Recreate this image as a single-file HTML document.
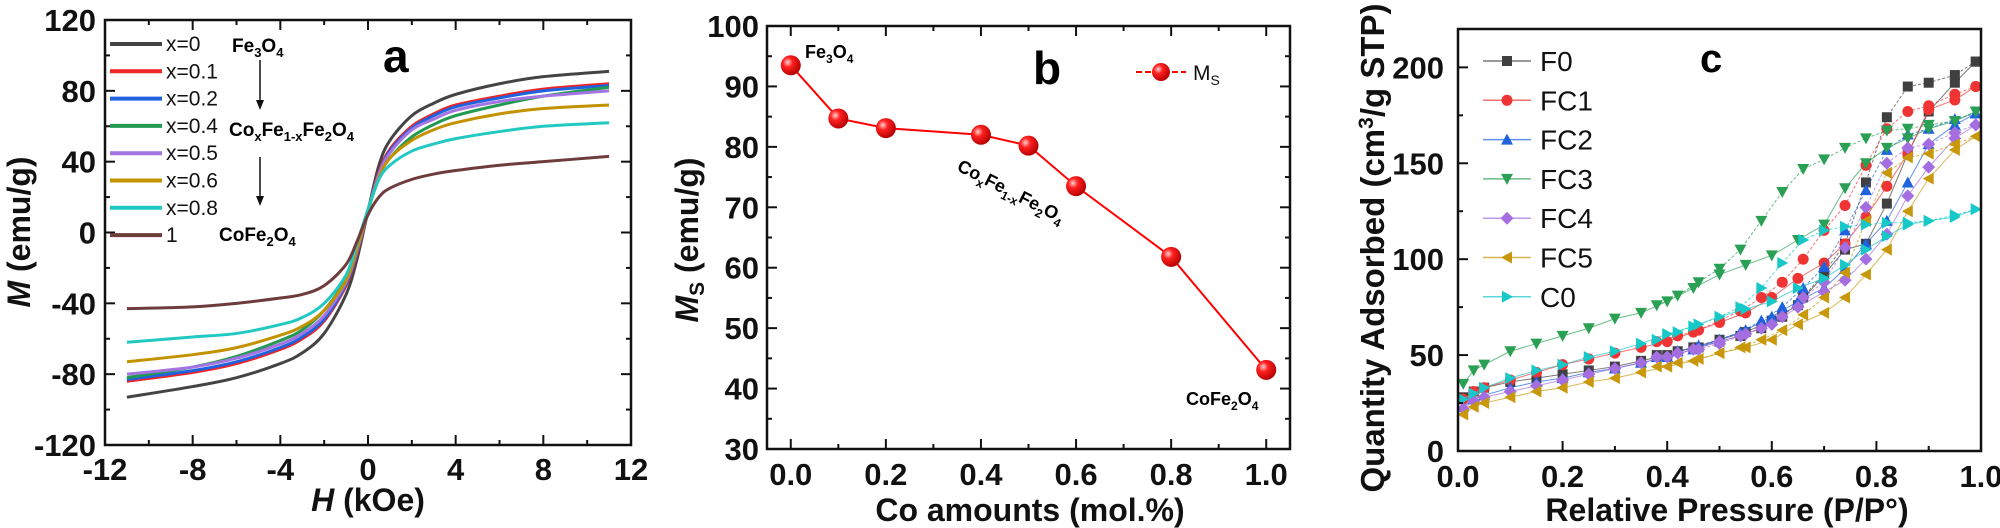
<!DOCTYPE html>
<html><head><meta charset="utf-8">
<style>
html,body{margin:0;padding:0;background:#fff;}
svg{display:block;font-family:"Liberation Sans",Arial,sans-serif;}
.tk{font-weight:bold;font-size:31px;fill:#111;}
.tt{font-weight:bold;font-size:32px;fill:#111;}
.lg{font-size:21px;fill:#111;}
</style></head>
<body>
<svg id="fig" width="2000" height="528" viewBox="0 0 2000 528" xmlns="http://www.w3.org/2000/svg">
<defs>
<radialGradient id="sph" cx="0.35" cy="0.35" r="0.7">
<stop offset="0" stop-color="#ffd0d0"/><stop offset="0.35" stop-color="#ff2020"/><stop offset="1" stop-color="#b00000"/>
</radialGradient>
</defs>
<g id="pa"></g>
<g id="pb"></g>
<g id="pc"></g>

<text x="383" y="72" font-size="46" font-weight="bold">a</text>
<text x="232" y="52" font-size="19" font-weight="bold">Fe<tspan font-size="13" dy="5">3</tspan><tspan dy="-5">O</tspan><tspan font-size="13" dy="5">4</tspan></text>
<text x="229" y="136" font-size="19" font-weight="bold">Co<tspan font-size="13" dy="5">x</tspan><tspan dy="-5">Fe</tspan><tspan font-size="13" dy="5">1-x</tspan><tspan dy="-5">Fe</tspan><tspan font-size="13" dy="5">2</tspan><tspan dy="-5">O</tspan><tspan font-size="13" dy="5">4</tspan></text>
<text x="219" y="241" font-size="19" font-weight="bold">CoFe<tspan font-size="13" dy="5">2</tspan><tspan dy="-5">O</tspan><tspan font-size="13" dy="5">4</tspan></text>
<g><line x1="260" y1="60" x2="260" y2="102" stroke="#111" stroke-width="1.5"/><path d="M256,100 L264,100 L260,110 Z" fill="#111"/></g>
<g><line x1="260" y1="157" x2="260" y2="198" stroke="#111" stroke-width="1.5"/><path d="M256,196 L264,196 L260,206 Z" fill="#111"/></g>
<text x="368" y="511" class="tt" text-anchor="middle"><tspan font-style="italic">H</tspan> (kOe)</text>
<text transform="translate(30,232) rotate(-90)" class="tt" text-anchor="middle"><tspan font-style="italic">M</tspan> (emu/g)</text>

<text x="1033" y="84" font-size="46" font-weight="bold">b</text>
<text x="805" y="58" font-size="18" font-weight="bold">Fe<tspan font-size="12" dy="5">3</tspan><tspan dy="-5">O</tspan><tspan font-size="12" dy="5">4</tspan></text>
<text transform="translate(956,170) rotate(27)" font-size="18" font-weight="bold">Co<tspan font-size="12" dy="5">x</tspan><tspan dy="-5">Fe</tspan><tspan font-size="12" dy="5">1-x</tspan><tspan dy="-5">Fe</tspan><tspan font-size="12" dy="5">2</tspan><tspan dy="-5">O</tspan><tspan font-size="12" dy="5">4</tspan></text>
<text x="1186" y="405" font-size="18" font-weight="bold">CoFe<tspan font-size="12" dy="5">2</tspan><tspan dy="-5">O</tspan><tspan font-size="12" dy="5">4</tspan></text>
<g>
<line x1="1136" y1="72" x2="1186" y2="72" stroke="#f00" stroke-width="2" stroke-dasharray="6,3"/>
<circle cx="1161" cy="72" r="9" fill="url(#sph)"/>
<text x="1193" y="80" font-size="21" fill="#111">M<tspan font-size="14" dy="5">S</tspan></text>
</g>
<text x="1030" y="521" class="tt" text-anchor="middle">Co amounts (mol.%)</text>
<text transform="translate(698,240) rotate(-90)" class="tt" text-anchor="middle"><tspan font-style="italic">M</tspan><tspan font-size="21" dy="6">S</tspan><tspan dy="-6"> (emu/g)</tspan></text>

<text x="1700" y="72" font-size="40" font-weight="bold">c</text>
<text x="1727" y="521" class="tt" text-anchor="middle">Relative Pressure (P/P°)</text>
<text transform="translate(1384,248) rotate(-90)" font-weight="bold" fill="#111" text-anchor="middle" font-size="33">Quantity Adsorbed (cm<tspan font-size="21" dy="-11">3</tspan><tspan dy="11">/g STP)</tspan></text>
</svg>

<script>
const aH = [-11,-8,-6,-4,-3,-2,-1,-0.5,0,0.5,1,2,3,4,6,8,11];
const aLabels = ['x=0','x=0.1','x=0.2','x=0.4','x=0.5','x=0.6','x=0.8','1'];
const aColors = ['#444444','#f02424','#1f62e0','#239a52','#a474e2','#c29200','#22c8c2','#6e3c3c'];
const aM0  = [-93,-87,-82,-74,-68,-57,-35,-15,12,38,52,66,73,78,84,88,91];
const aM01 = [-84,-79,-74,-66,-60,-50,-30,-12,12,34,47,60,67,72,77,81,84];
const aM02 = [-83,-78,-73,-65,-59,-49,-29,-11,12,33,46,59,66,71,76,80,83];
const aM04 = [-82,-76,-70,-61,-55,-44,-26,-9,13,32,42,54,61,66,72,77,82];
const aM05 = [-80,-76,-71,-63,-57,-47,-28,-10,12,33,45,58,64,69,74,77,80];
const aM06 = [-73,-69,-65,-58,-53,-44,-27,-9,12,31,42,52,58,62,67,70,72];
const aM08 = [-62,-59,-57,-52,-48,-40,-24,-6,13,30,38,46,50,53,57,60,62];
const aM10 = [-43,-42,-40,-37,-35,-30,-18,-5,10,20,25,30,33,35,38,40,43];
const aSeries = [aM0,aM01,aM02,aM04,aM05,aM06,aM08,aM10];
const aXTicks = [-12,-8,-4,0,4,8,12];
const aYTicks = [-120,-80,-40,0,40,80,120];

const bX = [0,0.1,0.2,0.4,0.5,0.6,0.8,1.0];
const bY = [93.5,84.7,83.1,82.0,80.2,73.5,61.8,43.1];
const bXTicks = ['0.0','0.2','0.4','0.6','0.8','1.0'];
const bYTicks = [30,40,50,60,70,80,90,100];

const cNames = ['F0','FC1','FC2','FC3','FC4','FC5','C0'];
const cColors = ['#404040','#f03434','#1f62e0','#2aa055','#a46ee0','#c8980a','#18c8c8'];
const cShapes = ['square','circle','tri-up','tri-down','diamond','tri-left','tri-right'];
const cAdsP = [0.01,0.03,0.05,0.1,0.15,0.2,0.25,0.3,0.35,0.4,0.45,0.5,0.55,0.6,0.65,0.7,0.74,0.78,0.82,0.86,0.9,0.95,0.99];
const cAdsF0  = [28,31,33,36,38,40,42,44,47,50,54,58,62,68,76,92,105,108,129,155,177,192,203];
const cAdsFC1 = [27,31,33,37,41,45,48,51,54,57,62,67,72,80,90,98,108,122,138,155,178,183,190];
const cAdsFC2 = [23,27,29,33,36,38,41,43,46,49,53,58,63,70,78,85,95,108,120,140,160,170,176];
const cAdsFC3 = [35,42,45,52,56,60,64,69,72,78,85,92,97,102,110,118,137,150,158,163,168,172,177];
const cAdsFC4 = [22,26,28,31,34,37,40,43,46,49,53,57,61,66,75,83,89,100,113,133,148,163,170];
const cAdsFC5 = [19,23,25,28,31,33,36,38,41,44,47,51,54,58,66,72,80,92,105,125,142,157,164];
const cAdsC0  = [27,30,33,38,42,45,49,52,56,61,65,70,74,78,85,90,97,105,112,118,120,122,126];
const cDesP = [0.99,0.95,0.9,0.86,0.82,0.78,0.74,0.7,0.66,0.62,0.58,0.54,0.5,0.46,0.42,0.38];
const cDesF0  = [203,196,192,190,174,140,108,93,80,70,64,60,57,54,52,50];
const cDesFC1 = [190,186,180,177,168,149,128,115,100,88,80,73,68,63,60,57];
const cDesFC2 = [176,173,168,165,157,136,115,96,85,75,68,62,58,55,52,49];
const cDesFC3 = [177,172,170,168,167,163,158,152,147,135,120,105,95,88,81,76];
const cDesFC4 = [170,166,160,158,150,127,106,88,80,70,64,60,56,53,51,49];
const cDesFC5 = [164,160,155,153,145,120,93,80,71,63,58,54,51,48,46,44];
const cDesC0  = [126,123,120,119,119,118,117,115,110,98,85,75,70,66,62,58];
const cAds = [cAdsF0,cAdsFC1,cAdsFC2,cAdsFC3,cAdsFC4,cAdsFC5,cAdsC0];
const cDes = [cDesF0,cDesFC1,cDesFC2,cDesFC3,cDesFC4,cDesFC5,cDesC0];
const cXTicks = ['0.0','0.2','0.4','0.6','0.8','1.0'];
const cYTicks = [0,50,100,150,200];

const NS='http://www.w3.org/2000/svg';
function mk(tag, parent, attrs){const e=document.createElementNS(NS,tag);for(const k in attrs)e.setAttribute(k,attrs[k]);parent.appendChild(e);return e;}
function scale(d0,d1,r0,r1){return v=>r0+(v-d0)/(d1-d0)*(r1-r0);}

function frame(g,x0,y0,x1,y1,sx,sy,xMaj,xMin,yMaj,yMin,allSides){
  const f=mk('rect',g,{x:x0,y:y0,width:x1-x0,height:y1-y0,fill:'none',stroke:'#111','stroke-width':2.5});
  
  
  xMin.forEach(v=>{const X=sx(v);const L=xMaj.includes(v)?10:5;
    mk('line',g,{x1:X,x2:X,y1:y1,y2:y1-L,stroke:'#111','stroke-width':2});
    if(allSides)mk('line',g,{x1:X,x2:X,y1:y0,y2:y0+L,stroke:'#111','stroke-width':2});});
  yMin.forEach(v=>{const Y=sy(v);const L=yMaj.includes(v)?10:5;
    mk('line',g,{x1:x0,x2:x0+L,y1:Y,y2:Y,stroke:'#111','stroke-width':2});
    if(allSides)mk('line',g,{x1:x1,x2:x1-L,y1:Y,y2:Y,stroke:'#111','stroke-width':2});});
}
function smooth(pts){
  let d='M'+pts[0][0]+','+pts[0][1];
  for(let i=0;i<pts.length-1;i++){
    const p0=pts[Math.max(0,i-1)],p1=pts[i],p2=pts[i+1],p3=pts[Math.min(pts.length-1,i+2)];
    const c1=[p1[0]+(p2[0]-p0[0])/6,p1[1]+(p2[1]-p0[1])/6];
    const c2=[p2[0]-(p3[0]-p1[0])/6,p2[1]-(p3[1]-p1[1])/6];
    d+=' C'+c1[0]+','+c1[1]+' '+c2[0]+','+c2[1]+' '+p2[0]+','+p2[1];
  }
  return d;
}
function range(a,b,s){const r=[];for(let v=a;v<=b+1e-9;v+=s)r.push(Math.round(v*1000)/1000);return r;}

(function(){
  const g=document.getElementById('pa');
  const x0=105,x1=631,y0=20,y1=445;
  const sx=scale(-12,12,x0,x1), sy=scale(-120,120,y1,y0);
  aSeries.forEach((s,i)=>{
    const p=mk('path',g,{d:smooth(aH.map((h,j)=>[sx(h),sy(s[j])])),fill:'none',stroke:aColors[i],'stroke-width':3});
    
    
  });
  frame(g,x0,y0,x1,y1,sx,sy,aXTicks,range(-12,12,2),aYTicks,range(-120,120,20),true);
  aXTicks.forEach(v=>{const t=mk('text',g,{x:sx(v),y:480,'text-anchor':'middle',class:'tk'});t.textContent=v;
    
    });
  aYTicks.forEach(v=>{const t=mk('text',g,{x:96,y:sy(v)+11,'text-anchor':'end',class:'tk'});t.textContent=v;
    
    });
  aLabels.forEach((l,i)=>{const y=44+i*27.3;
    const e=mk('g',g,{});
    
    
    mk('line',e,{x1:110,x2:162,y1:y,y2:y,stroke:aColors[i],'stroke-width':4});
    const t=mk('text',e,{x:166,y:y+7,class:'lg'});t.textContent=l;});
})();

(function(){
  const g=document.getElementById('pb');
  const x0=767,x1=1290,y0=26,y1=449;
  const sx=scale(-0.05,1.05,x0,x1), sy=scale(30,100,y1,y0);
  frame(g,x0,y0,x1,y1,sx,sy,[0,0.2,0.4,0.6,0.8,1],range(0,1,0.1),bYTicks,range(30,100,5),true);
  const pl=mk('polyline',g,{points:bX.map((x,i)=>sx(x)+','+sy(bY[i])).join(' '),fill:'none',stroke:'#f00','stroke-width':2});
  
  
  bX.forEach((x,i)=>{const c=mk('circle',g,{cx:sx(x),cy:sy(bY[i]),r:10,fill:'url(#sph)'});
    
    });
  bXTicks.forEach(v=>{const t=mk('text',g,{x:sx(+v),y:485,'text-anchor':'middle',class:'tk'});t.textContent=v;
    
    });
  bYTicks.forEach(v=>{const t=mk('text',g,{x:759,y:sy(v)+11,'text-anchor':'end',class:'tk'});t.textContent=v;
    
    });
})();

function marker(g,shape,x,y,c){
  const r=5;let e;
  if(shape==='square')e=mk('rect',g,{x:x-r,y:y-r,width:2*r,height:2*r,fill:c});
  else if(shape==='circle')e=mk('circle',g,{cx:x,cy:y,r:r+0.5,fill:c});
  else{let p;
    if(shape==='tri-up')p=[[0,-6],[6,5],[-6,5]];
    else if(shape==='tri-down')p=[[0,6],[6,-5],[-6,-5]];
    else if(shape==='diamond')p=[[0,-6.5],[6.5,0],[0,6.5],[-6.5,0]];
    else if(shape==='tri-left')p=[[-6,0],[5,-6],[5,6]];
    else p=[[6,0],[-5,-6],[-5,6]];
    e=mk('polygon',g,{points:p.map(q=>(x+q[0])+','+(y+q[1])).join(' '),fill:c});}
  return e;
}
(function(){
  const g=document.getElementById('pc');
  const x0=1458,x1=1981,y0=29,y1=451;
  const sx=scale(0,1,x0,x1), sy=scale(0,220,y1,y0);
  cNames.forEach((n,i)=>{
    const s=mk('g',g,{});
    
    
    mk('polyline',s,{points:cAdsP.map((p,j)=>sx(p)+','+sy(cAds[i][j])).join(' '),fill:'none',stroke:cColors[i],'stroke-width':1,'stroke-opacity':0.7});
    mk('polyline',s,{points:cDesP.map((p,j)=>sx(p)+','+sy(cDes[i][j])).join(' '),fill:'none',stroke:cColors[i],'stroke-width':1,'stroke-opacity':0.7,'stroke-dasharray':'3,2'});
    cAdsP.forEach((p,j)=>marker(s,cShapes[i],sx(p),sy(cAds[i][j]),cColors[i]));
    cDesP.forEach((p,j)=>marker(s,cShapes[i],sx(p),sy(cDes[i][j]),cColors[i]));
  });
  frame(g,x0,y0,x1,y1,sx,sy,[0,0.2,0.4,0.6,0.8,1],range(0,1,0.1),cYTicks,range(0,200,25),false);
  cXTicks.forEach(v=>{const t=mk('text',g,{x:sx(+v),y:487,'text-anchor':'middle',class:'tk'});t.textContent=v;
    
    });
  cYTicks.forEach(v=>{const t=mk('text',g,{x:1444,y:sy(v)+11,'text-anchor':'end',class:'tk'});t.textContent=v;
    
    });
  cNames.forEach((n,i)=>{const y=61+i*39.3;
    const e=mk('g',g,{});
    
    
    mk('line',e,{x1:1483,x2:1531,y1:y,y2:y,stroke:cColors[i],'stroke-width':1.5,'stroke-opacity':0.7});
    marker(e,cShapes[i],1507,y,cColors[i]);
    const t=mk('text',e,{x:1540,y:y+10,'font-size':28,fill:'#111'});t.textContent=n;});
})();
</script>
</body></html>
